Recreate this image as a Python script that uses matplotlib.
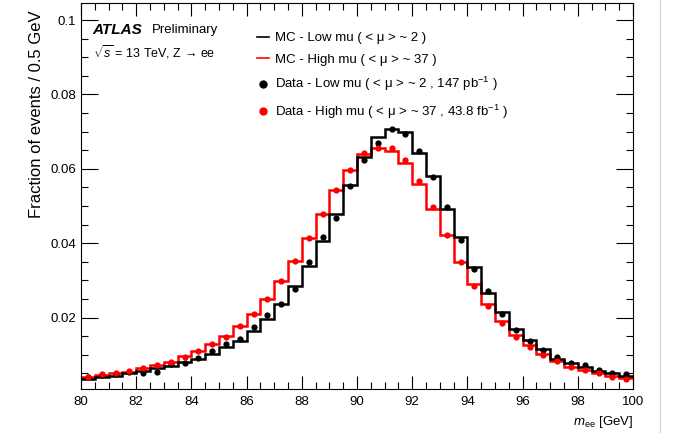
import numpy as np
import matplotlib
matplotlib.use("Agg")
import matplotlib.pyplot as plt
from matplotlib.lines import Line2D
from matplotlib.ticker import MultipleLocator, FuncFormatter

plt.rcParams['font.family'] = ['Liberation Sans', 'DejaVu Sans']
plt.rcParams['mathtext.fontset'] = 'custom'
plt.rcParams['mathtext.rm'] = 'Liberation Sans'
plt.rcParams['mathtext.it'] = 'Liberation Sans:italic'
plt.rcParams['mathtext.bf'] = 'Liberation Sans:bold'

# m_ee bin edges, 0.5 GeV wide, 80-100 GeV
bin_edges = np.arange(80, 100.01, 0.5)

# MC low mu (black histogram)
mc_low = [0.0035, 0.0039, 0.0044, 0.0050, 0.0057, 0.0065, 0.0070, 0.0081, 0.0088, 0.0102,
          0.0122, 0.0137, 0.0164, 0.0196, 0.0236, 0.0285, 0.0340, 0.0405, 0.0478, 0.0556,
          0.0632, 0.0687, 0.0708, 0.0699, 0.0643, 0.0580, 0.0493, 0.0417, 0.0337, 0.0267,
          0.0216, 0.0169, 0.0141, 0.0115, 0.0090, 0.0077, 0.0066, 0.0057, 0.0050, 0.0044]
# MC high mu (red histogram)
mc_high = [0.0041, 0.0046, 0.0050, 0.0055, 0.0064, 0.0073, 0.0081, 0.0097, 0.0111, 0.0129,
           0.0150, 0.0178, 0.0211, 0.0250, 0.0298, 0.0353, 0.0413, 0.0479, 0.0542, 0.0598,
           0.0641, 0.0657, 0.0648, 0.0616, 0.0558, 0.0491, 0.0421, 0.0350, 0.0291, 0.0237,
           0.0191, 0.0153, 0.0126, 0.0102, 0.0083, 0.0068, 0.0059, 0.0050, 0.0043, 0.0038]
# data low mu (black points)
data_low = [0.0039, 0.0046, 0.0048, 0.0055, 0.0052, 0.0055, 0.0075, 0.0077, 0.0091, 0.0111,
            0.0129, 0.0143, 0.0174, 0.0207, 0.0236, 0.0278, 0.0349, 0.0417, 0.0469, 0.0553,
            0.0623, 0.0670, 0.0706, 0.0694, 0.0648, 0.0578, 0.0498, 0.0408, 0.0331, 0.0271,
            0.0209, 0.0166, 0.0138, 0.0113, 0.0093, 0.0077, 0.0072, 0.0059, 0.0052, 0.0048]
# data high mu (red points)
data_high = [0.0041, 0.0048, 0.0050, 0.0056, 0.0064, 0.0073, 0.0081, 0.0095, 0.0110, 0.0129,
             0.0148, 0.0177, 0.0209, 0.0250, 0.0298, 0.0351, 0.0413, 0.0478, 0.0542, 0.0598,
             0.0643, 0.0657, 0.0657, 0.0623, 0.0566, 0.0498, 0.0421, 0.0350, 0.0285, 0.0231,
             0.0186, 0.0149, 0.0122, 0.0099, 0.0083, 0.0068, 0.0059, 0.0050, 0.0041, 0.0035]

labels = [r'MC - Low mu ( < μ > ~ 2 )',
          r'MC - High mu ( < μ > ~ 37 )',
          r'Data - Low mu ( < μ > ~ 2 , 147 pb$^{\mathregular{-1}}$ )',
          r'Data - High mu ( < μ > ~ 37 , 43.8 fb$^{\mathregular{-1}}$ )']

red = '#ff0000'
fig = plt.figure(figsize=(6.73, 4.33), dpi=100)
ax = fig.add_axes([81 / 673, 1 - 389 / 433, 552 / 673, 386 / 433])

centers = 0.5 * (bin_edges[:-1] + bin_edges[1:])
ax.stairs(mc_high, bin_edges, color=red, lw=1.8, baseline=None)
ax.stairs(mc_low, bin_edges, color='black', lw=1.8, baseline=None)
ax.plot(centers, data_low, 'o', color='black', ms=4.5, mec='none')
ax.plot(centers, data_high, 'o', color=red, ms=4.5, mec='none')

ax.set_xlim(80, 100)
ax.set_ylim(0.0008, 0.1046)

# ROOT style ticks
ax.xaxis.set_major_locator(MultipleLocator(2))
ax.xaxis.set_minor_locator(MultipleLocator(0.5))
ax.yaxis.set_major_locator(MultipleLocator(0.02))
ax.yaxis.set_minor_locator(MultipleLocator(0.005))
ax.yaxis.set_major_formatter(FuncFormatter(lambda v, p: '%g' % round(v, 4)))
ax.tick_params(which='both', direction='in', top=True, right=True, labelsize=9.5, width=0.8)
ax.tick_params(axis='x', which='major', length=9.5, pad=5)
ax.tick_params(axis='x', which='minor', length=5)
ax.tick_params(axis='y', which='major', length=12)
ax.tick_params(axis='y', which='minor', length=5)
for s in ax.spines.values():
    s.set_linewidth(0.8)

ax.set_ylabel('Fraction of events / 0.5 GeV', fontsize=12, loc='top')
ax.yaxis.set_label_coords(-0.067, 0.982)
ax.set_xlabel(r'$m_{\mathregular{ee}}$ [GeV]', fontsize=9.5, loc='right', labelpad=4)

ax.text(0.021, 0.93, 'ATLAS', transform=ax.transAxes, fontsize=11, fontweight='bold',
        style='italic', va='center')
ax.text(0.128, 0.93, 'Preliminary', transform=ax.transAxes, fontsize=9.5, va='center')
ax.text(0.021, 0.872, r'$\sqrt{s}$ = 13 TeV, Z → ee', transform=ax.transAxes, fontsize=9,
        va='center')

handles = [Line2D([], [], color='black', lw=1.2),
           Line2D([], [], color=red, lw=1.2),
           Line2D([], [], marker='o', ls='none', color='black', ms=5),
           Line2D([], [], marker='o', ls='none', color=red, ms=5)]
ax.legend(handles, labels, loc='upper left', bbox_to_anchor=(0.31, 0.938), frameon=False,
          fontsize=9.5, handlelength=0.9, handletextpad=0.4, labelspacing=0.7,
          borderaxespad=0)

# thin border line at the far right of the image
fig.add_artist(Line2D([660 / 673, 660 / 673], [0, 1], color='#c8d4dc', lw=0.8))

fig.savefig('out.png', dpi=100)
